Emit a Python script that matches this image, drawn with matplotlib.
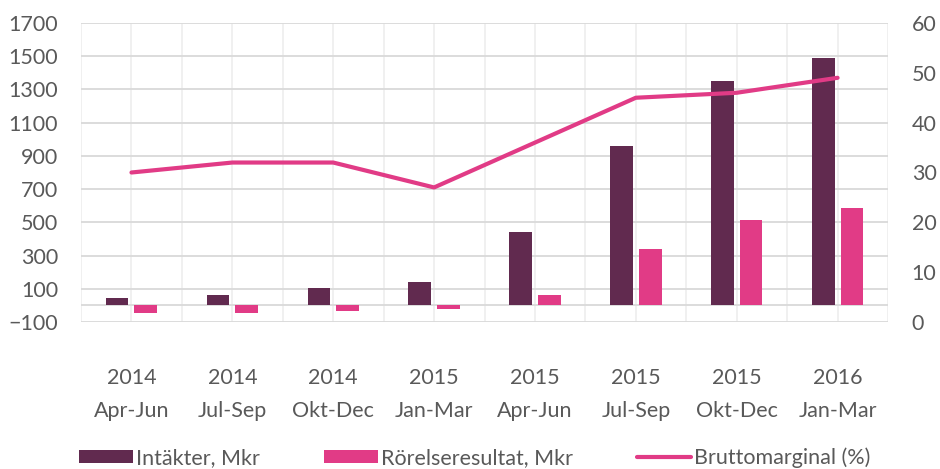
import matplotlib.pyplot as plt
import numpy as np

categories = ["2014\nApr-Jun", "2014\nJul-Sep", "2014\nOkt-Dec", "2015\nJan-Mar",
              "2015\nApr-Jun", "2015\nJul-Sep", "2015\nOkt-Dec", "2016\nJan-Mar"]
intakter = [42, 62, 102, 138, 440, 960, 1350, 1488]
rorelse = [-45, -45, -34, -20, 60, 342, 515, 585]
brutto = [30, 32, 32, 27, 36, 45, 46, 49]

DARK = "#612A4F"
PINK = "#E13B86"
TEXT = "#595959"
FS = 15.5

plt.rcParams["font.family"] = ["Lato", "DejaVu Sans"]

fig = plt.figure(figsize=(9.4, 4.69), dpi=100)
ax = fig.add_axes([0.0862, 0.3134, 0.8585, 0.6376])
x = np.arange(len(categories))
w = 0.225
off = 0.142

# grid
for xv in np.arange(-0.5, len(categories), 0.5):
    ax.axvline(xv, color="#EDEDED", lw=1.2, zorder=0)
for yv in list(range(-100, 1701, 200)) + [0]:
    ax.axhline(yv, color="#D9D9D9", lw=1.3, zorder=0.5)

ax.bar(x - off, intakter, width=w, color=DARK, label="Intäkter, Mkr", zorder=2)
ax.bar(x + off, rorelse, width=w, color=PINK, label="Rörelseresultat, Mkr", zorder=2)

ax.set_xlim(-0.5, len(categories) - 0.5)
ax.set_ylim(-100, 1700)
ax.set_yticks(range(-100, 1701, 200))
ax.set_xticks(x)
ax.set_xticklabels(categories, linespacing=1.85)
ax.tick_params(axis="both", length=0, labelsize=FS, labelcolor=TEXT)
ax.tick_params(axis="y", pad=16.5)
ax.tick_params(axis="x", pad=33)
for s in ax.spines.values():
    s.set_visible(False)

ax2 = ax.twinx()
ax2.plot(x, brutto, color=PINK, lw=3, solid_capstyle="round",
         solid_joinstyle="round", label="Bruttomarginal (%)", zorder=3)
ax2.set_ylim(0, 60)
ax2.set_yticks(range(0, 61, 10))
ax2.tick_params(axis="y", length=0, labelsize=FS, labelcolor=TEXT, pad=17)
for s in ax2.spines.values():
    s.set_visible(False)

h1, l1 = ax.get_legend_handles_labels()
h2, l2 = ax2.get_legend_handles_labels()
leg = fig.legend(h1 + h2, l1 + l2, loc="lower center", ncol=3, frameon=False,
                 bbox_to_anchor=(0.505, -0.025), fontsize=FS, handlelength=2.5,
                 handleheight=0.57, handletextpad=0.12, columnspacing=3.0,
                 borderaxespad=0.2)
for t in leg.get_texts():
    t.set_color(TEXT)

fig.savefig("out.png", dpi=100)
